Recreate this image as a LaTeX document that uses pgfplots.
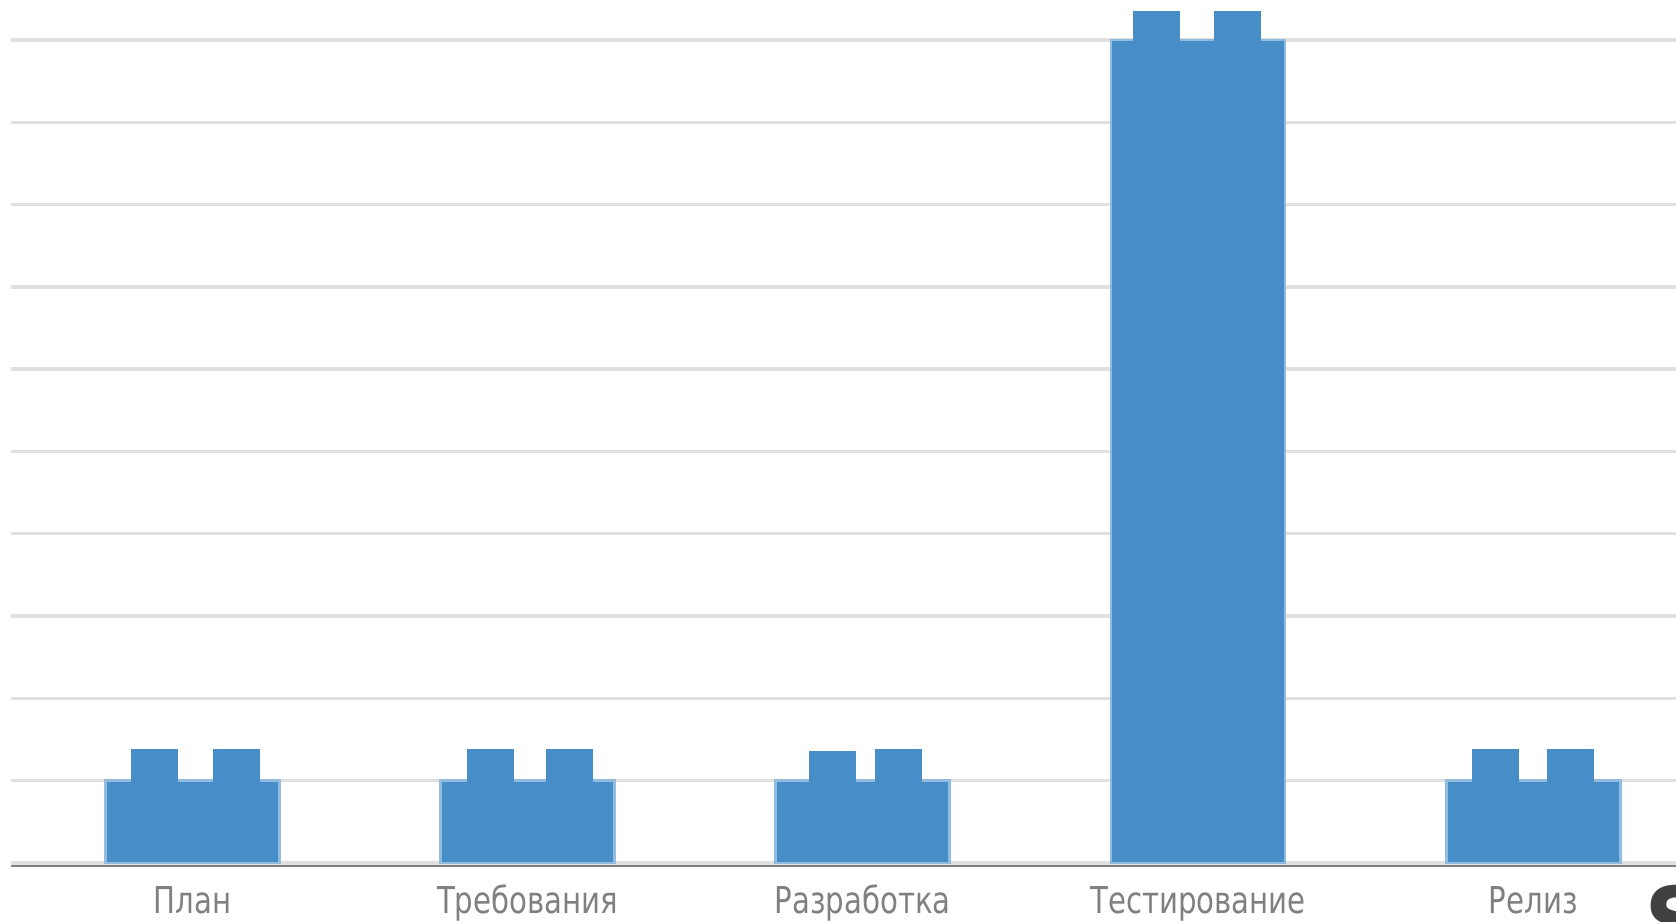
\documentclass[border=0pt]{standalone}
\usepackage{pgfplots}
\pgfplotsset{compat=1.18}
\usepackage{fontspec}
\setmainfont{DejaVu Sans}
\newfontfamily\labelfont{DejaVu Sans}[FakeStretch=0.79]
\definecolor{barblue}{RGB}{71,141,199}
\definecolor{barline}{RGB}{145,188,224}
\definecolor{gridgray}{RGB}{224,224,224}
\definecolor{axisgray}{RGB}{127,127,127}
\definecolor{labelgray}{RGB}{128,128,128}
\definecolor{glyphgray}{RGB}{64,64,64}
\begin{document}
\begin{tikzpicture}
\begin{axis}[
 name=ax, at={(0,0)}, anchor=south west,
 scale only axis, width=832.5pt, height=431.5pt,
 xmin=-0.541, xmax=4.426, ymin=0, ymax=10.486,
 axis line style={draw=none},
 xtick={0,1,2,3,4},
 xticklabels={План,Требования,Разработка,Тестирование,Релиз},
 ytick={0,1,...,10}, yticklabels={},
 ymajorgrids, major grid style={gridgray, line width=1.7pt},
 major tick length=0pt,
 xticklabel style={font=\labelfont\fontsize{18.5}{20}\selectfont, text=labelgray, anchor=base, inner sep=0pt, yshift=-25pt},
 clip=false,
 unbounded coords=jump,
]
% main bodies
\addplot[ybar, bar width=87pt, bar shift=0pt, fill=barblue, draw=barline, line width=1.3pt]
 coordinates {(0,1) (1,1) (2,1) (3,10) (4,1)};
% studs (vertical segments with butt caps, sitting on the bodies)
\addplot[barblue, line width=23.5pt, line cap=butt, mark=none]
 coordinates {
 (-0.113,0.99) (-0.113,1.39) (-0.113,nan)
 (0.131,0.99) (0.131,1.39) (0.131,nan)
 (0.890,0.99) (0.890,1.39) (0.890,nan)
 (1.126,0.99) (1.126,1.39) (1.126,nan)
 (1.911,0.99) (1.911,1.356) (1.911,nan)
 (2.106,0.99) (2.106,1.39) (2.106,nan)
 (2.877,9.99) (2.877,10.35) (2.877,nan)
 (3.119,9.99) (3.119,10.35) (3.119,nan)
 (3.887,0.99) (3.887,1.39) (3.887,nan)
 (4.111,0.99) (4.111,1.39)
 };
\draw[axisgray, line width=1.25pt] ([yshift=-1.5pt]rel axis cs:0,0) -- ([yshift=-1.5pt]rel axis cs:1,0);
\end{axis}
\node[anchor=north west, inner sep=0pt, text=glyphgray] at (816.5pt,-11pt) {\fontsize{46}{46}\selectfont\bfseries S};
\pgfresetboundingbox
\useasboundingbox (-5.5pt,-29pt) rectangle (832.5pt,431.5pt);
\end{tikzpicture}
\end{document}
